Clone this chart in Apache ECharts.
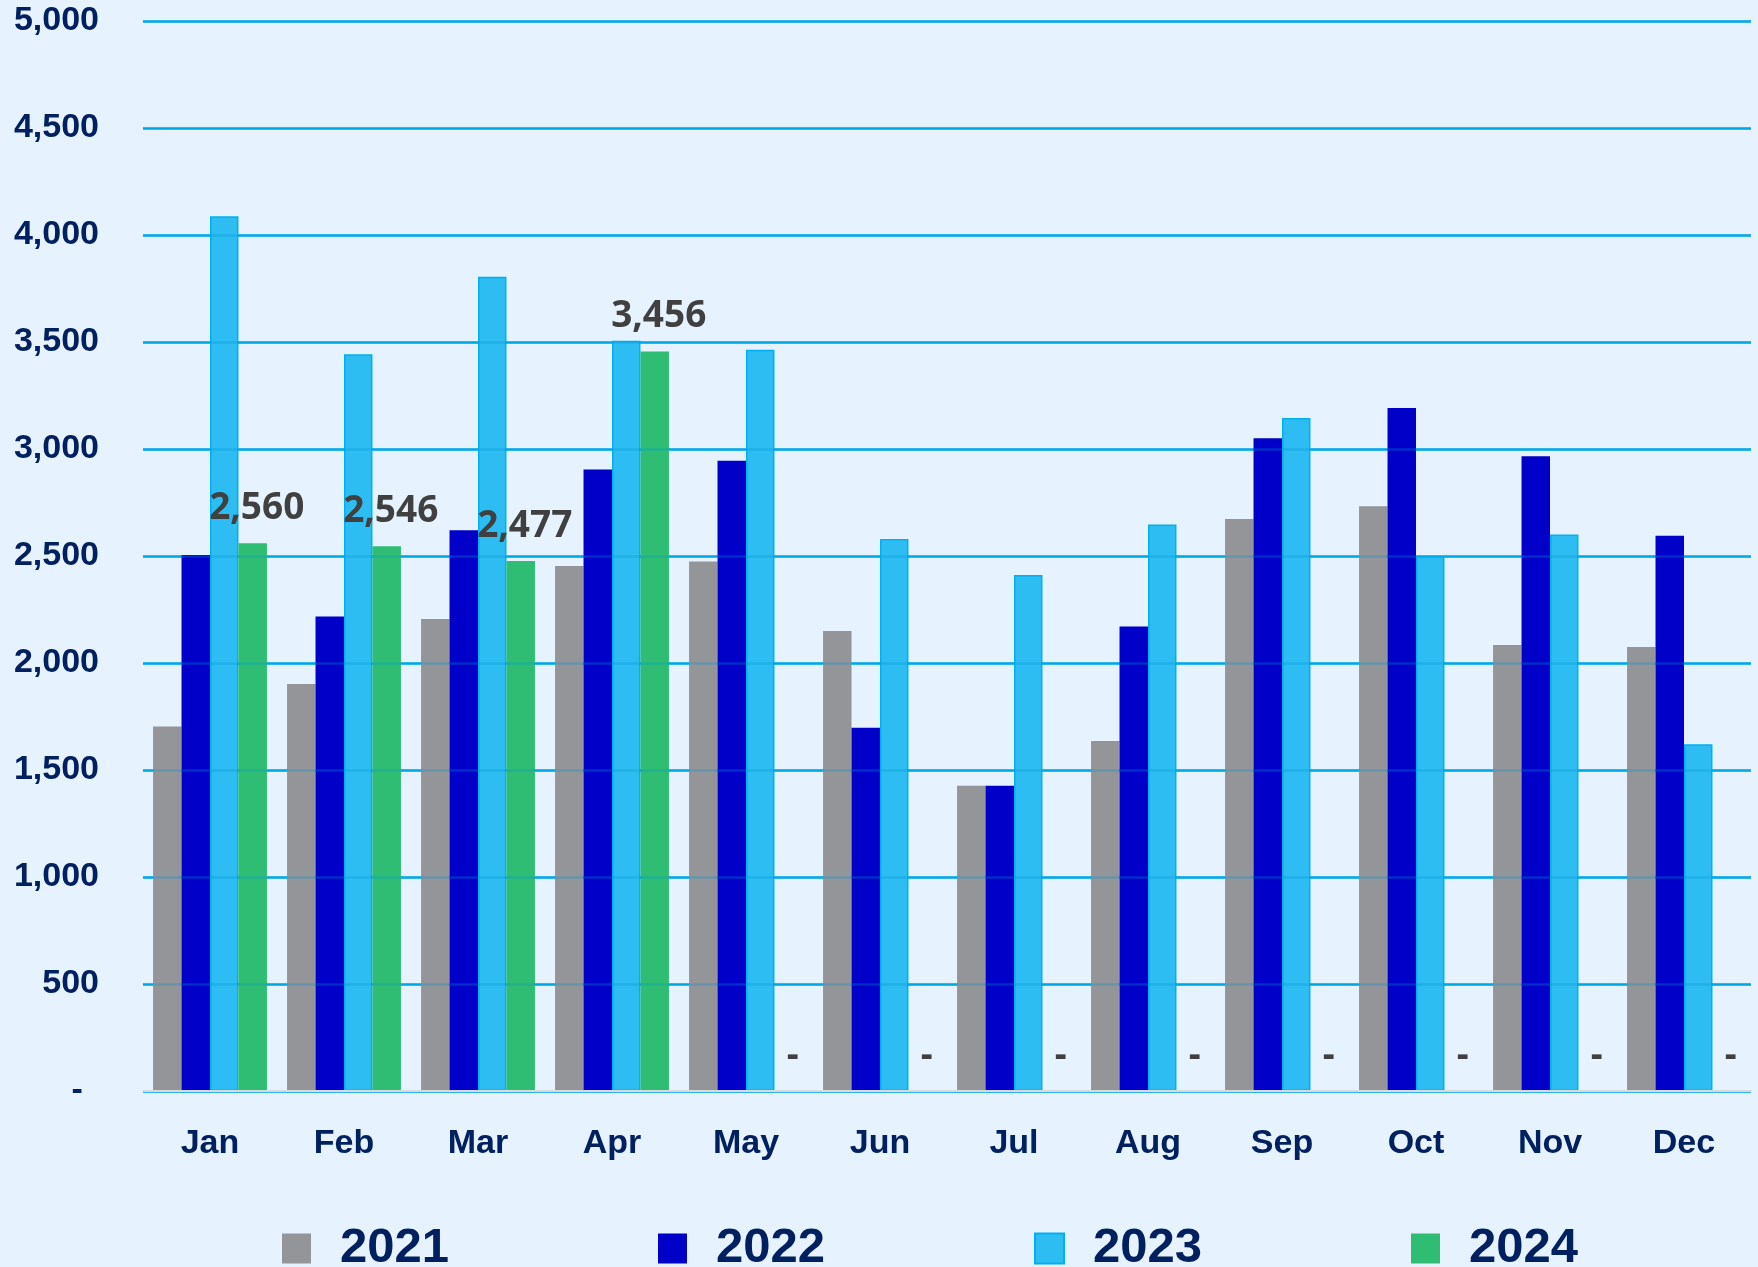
<!DOCTYPE html>
<html>
<head>
<meta charset="utf-8">
<script src="https://cdn.jsdelivr.net/npm/echarts@6/dist/echarts.min.js"></script>
<style>
  html, body { margin: 0; padding: 0; background: #E6F2FD; }
  #chart { width: 1758px; height: 1267px; }
</style>
</head>
<body>
<div id="chart"></div>
<script>
  // months on the x axis
  var months = ['Jan', 'Feb', 'Mar', 'Apr', 'May', 'Jun', 'Jul', 'Aug', 'Sep', 'Oct', 'Nov', 'Dec'];
  var years = ['2021', '2022', '2023', '2024'];

  // values
  var data2021 = [1703, 1902, 2206, 2453, 2474, 2149, 1426, 1635, 2673, 2733, 2084, 2075];
  var data2022 = [2505, 2217, 2620, 2904, 2945, 1698, 1426, 2170, 3050, 3192, 2966, 2595];
  var data2023 = [4088, 3443, 3805, 3506, 3464, 2579, 2411, 2647, 3145, 2500, 2600, 1620];
  var data2024 = [2560, 2546, 2477, 3456, 0, 0, 0, 0, 0, 0, 0, 0];

  var navy = '#002060';
  var labelFont = '"Liberation Sans", Arial, sans-serif';

  function fmt(v) {
    if (!v) return '-';
    return v.toLocaleString('en-US');
  }

  var myChart = echarts.init(document.getElementById('chart'));
  myChart.setOption({
    backgroundColor: '#E6F2FD',
    animation: false,
    grid: {left: 143, right: 7, top: 21, bottom: 176, containLabel: false},
    legend: {
      left: 277,
      top: 1219,
      icon: 'rect',
      itemWidth: 29,
      itemHeight: 30,
      itemGap: 209,
      data: years,
      textStyle: {
        color: navy,
        fontSize: 49,
        fontWeight: 'bold',
        fontFamily: labelFont,
        padding: [0, 0, 0, 24]
      }
    },
    xAxis: {
      type: 'category',
      data: months,
      z: 12,
      axisTick: {show: false},
      axisLine: {lineStyle: {color: '#D9D9D9', width: 2}},
      axisLabel: {
        color: navy,
        fontSize: 34,
        fontWeight: 'bold',
        fontFamily: labelFont,
        margin: 36
      }
    },
    yAxis: [
      {
        type: 'value',
        min: 0,
        max: 5000,
        interval: 500,
        axisLine: {show: false},
        axisTick: {show: false},
        splitLine: {lineStyle: {color: '#00B0F0', width: 2.5}},
        axisLabel: {
          color: navy,
          fontSize: 34,
          fontWeight: 'bold',
          fontFamily: labelFont,
          margin: 44,
          formatter: function (v) { return v ? fmt(v) : '- \u2009'; }
        }
      },
      {
        // gridlines seen through the bars
        type: 'value',
        min: 0,
        max: 5000,
        interval: 500,
        position: 'left',
        z: 10,
        axisLine: {show: false},
        axisTick: {show: false},
        axisLabel: {show: false},
        splitLine: {lineStyle: {color: 'rgba(0,150,210,0.3)', width: 2.5}}
      }
    ],
    series: [
      {
        name: '2021',
        type: 'bar',
        data: data2021,
        barGap: '0%',
        barCategoryGap: '15%',
        itemStyle: {color: '#939598'}
      },
      {
        name: '2022',
        type: 'bar',
        data: data2022,
        itemStyle: {color: '#0000C8'}
      },
      {
        name: '2023',
        type: 'bar',
        data: data2023,
        itemStyle: {color: '#2DBDF2', borderColor: '#00B0F0', borderWidth: 1.5}
      },
      {
        name: '2024',
        type: 'bar',
        data: data2024,
        itemStyle: {color: '#2EBD73'},
        label: {
          show: true,
          position: 'top',
          distance: 16,
          offset: [4, 0],
          color: '#404040',
          fontSize: 37,
          fontWeight: 'bold',
          fontFamily: '"Open Sans", sans-serif',
          formatter: function (p) { return fmt(p.value); }
        }
      }
    ]
  });
</script>
</body>
</html>
